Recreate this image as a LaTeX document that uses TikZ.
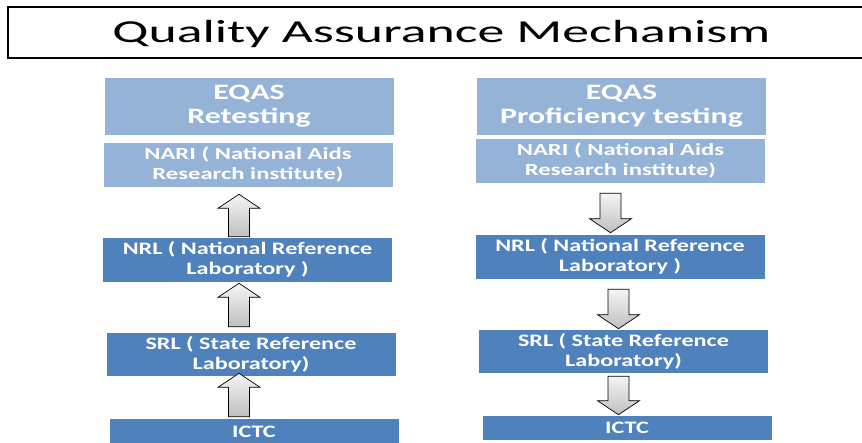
\documentclass[tikz,border=0pt]{standalone}
\usepackage{fontspec}
\setmainfont{Carlito}
\newfontfamily\titlefont[FakeStretch=1.68]{Carlito}
\newfontfamily\boxfont[FakeStretch=1.45]{Carlito}
\newfontfamily\labfont[FakeStretch=1.38]{Carlito}
\usetikzlibrary{calc}
\definecolor{qalight}{HTML}{95B3D7}
\definecolor{qadark}{HTML}{4F81BD}

% block arrow from tail #1 to tip #2
\newcommand{\fatarrow}[2]{%
  \coordinate (hb) at ($(#2)!14pt!(#1)$);
  \draw[fat] ($(#1)!10.5pt!90:(#2)$) -- ($(hb)!10.5pt!-90:(#1)$) -- ($(hb)!21pt!-90:(#1)$) -- (#2)
    -- ($(hb)!21pt!90:(#1)$) -- ($(hb)!10.5pt!90:(#1)$) -- ($(#1)!10.5pt!-90:(#2)$) -- cycle;
}

\begin{document}
\begin{tikzpicture}[
  x=1pt, y=-1pt,
  head/.style={fill=qalight, draw=white, line width=0.6pt, text=white, align=center,
    inner sep=0pt, minimum width=290, font=\boxfont\bfseries\fontsize{22}{23.5}\selectfont},
  top/.style={head, font=\boxfont\bfseries\fontsize{17}{20.5}\selectfont},
  lab/.style={head, fill=qadark, font=\labfont\bfseries\fontsize{17.5}{20}\selectfont},
  fat/.style={draw=black, line width=0.7pt, top color=gray!8, bottom color=gray!50}
  ]
  \useasboundingbox (0,0) rectangle (862,442);
  \clip (0,0) rectangle (862,442);
  \fill[white] (0,0) rectangle (862,442);

  % --- title ---
  \node[draw, line width=1.5pt, minimum width=867, minimum height=51, inner sep=0pt] (tbox) at (441.5,32.5) {};
  \node[anchor=base, inner sep=0pt, font=\titlefont\fontsize{32}{36}\selectfont] (title) at (441.5,42) {Quality Assurance Mechanism};

  % --- left column: retesting ---
  \node[head, minimum height=58] (eqas1) at (249,106) {EQAS\\Retesting};
  \node[top, minimum height=45] (nari1) at (248,164.5) {NARI ( National Aids\\Research institute)};
  \node[lab, minimum height=45] (nrl1) at (247.5,259.5) {NRL ( National Reference\\Laboratory )};
  \node[lab, minimum height=44] (srl1) at (251,354) {SRL ( State Reference\\Laboratory)};
  \node[lab, minimum height=27] (ictc1) at (254,431.5) {ICTC};

  % --- right column: proficiency testing ---
  \node[head, minimum height=58] (eqas2) at (621.5,106) {EQAS\\Proficiency testing};
  \node[top, minimum height=45] (nari2) at (620.5,160.5) {NARI ( National Aids\\Research institute)};
  \node[lab, minimum height=45] (nrl2) at (620,256.5) {NRL ( National Reference\\Laboratory )};
  \node[lab, minimum height=44] (srl2) at (623.5,351) {SRL ( State Reference\\Laboratory)};
  \node[lab, minimum height=25] (ictc2) at (627,427.5) {ICTC};

  % --- arrows up ---
  \coordinate (ul) at (239,0);
  \coordinate (t1) at (nrl1.north -| ul);
  \coordinate (h1) at ([yshift=-7pt]nari1.south -| ul);
  \coordinate (t2) at ([yshift=5pt]srl1.north -| ul);
  \coordinate (h2) at ([yshift=-1pt]nrl1.south -| ul);
  \coordinate (t3) at ([yshift=1pt]ictc1.north -| ul);
  \coordinate (h3) at ([yshift=3pt]srl1.south -| ul);
  \fatarrow{t1}{h1}
  \fatarrow{t2}{h2}
  \fatarrow{t3}{h3}

  % --- arrows down ---
  \coordinate (dr) at (610.5,0);
  \coordinate (dr2) at (618.5,0);
  \coordinate (t4) at ([yshift=-10pt]nari2.south -| dr);
  \coordinate (h4) at ([yshift=1pt]nrl2.north -| dr);
  \coordinate (t5) at ([yshift=-10pt]nrl2.south -| dr2);
  \coordinate (h5) at (srl2.north -| dr2);
  \coordinate (t6) at ([yshift=-3pt]srl2.south -| dr2);
  \coordinate (h6) at (ictc2.north -| dr2);
  \fatarrow{t4}{h4}
  \fatarrow{t5}{h5}
  \fatarrow{t6}{h6}
\end{tikzpicture}
\end{document}
